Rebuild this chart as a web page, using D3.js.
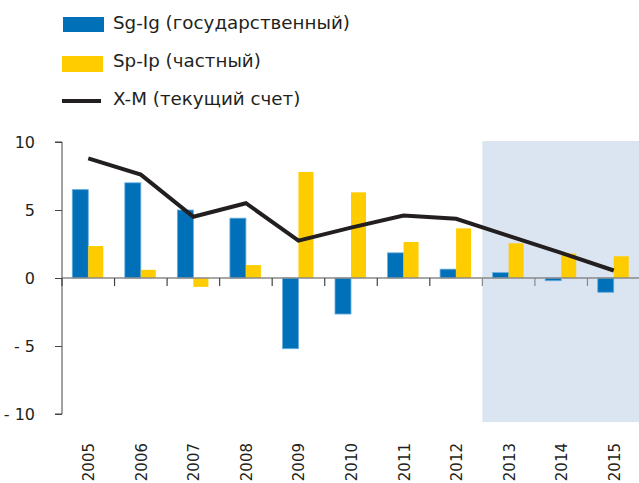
<!DOCTYPE html>
<html>
<head>
<meta charset="utf-8">
<script src="https://cdn.jsdelivr.net/npm/d3@7"></script>
<style>
  body { margin: 0; background: #fff; }
  text { font-family: "DejaVu Sans", sans-serif; fill: #231f20; }
</style>
</head>
<body>
<div id="chart"></div>
<script>
var years = ["2005","2006","2007","2008","2009","2010","2011","2012","2013","2014","2015"];
var gov = [6.5, 7.0, 5.0, 4.4, -5.2, -2.65, 1.85, 0.65, 0.4, -0.2, -1.05];
var priv = [2.35, 0.6, -0.65, 0.95, 7.8, 6.3, 2.65, 3.65, 2.55, 1.8, 1.6];
var cur = [8.8, 7.6, 4.5, 5.5, 2.75, 3.7, 4.6, 4.35, 3.1, 1.85, 0.55];
var yTicks = [-10, -5, 0, 5, 10];
var legendNames = ["Sg-Ig (государственный)", "Sp-Ip (частный)", "X-M (текущий счет)"];
var forecastFrom = "2013";

var width = 639, height = 483;
var svg = d3.select("#chart").append("svg").attr("width", width).attr("height", height);

var x = d3.scaleBand().domain(years).range([62, 640]);
var y = d3.scaleLinear().domain([-10, 10]).range([414, 142]);

// forecast shading
svg.append("rect")
  .attr("x", x(forecastFrom))
  .attr("y", 141)
  .attr("width", 640 - x(forecastFrom))
  .attr("height", 422 - 141)
  .attr("fill", "#dbe5f1");

// y axis
var yAxis = svg.append("g").attr("transform", "translate(62,0)")
  .call(d3.axisLeft(y).tickValues(yTicks).tickSize(7).tickPadding(20)
    .tickFormat(function(d){ return d < 0 ? "- " + Math.abs(d) : d; }));
yAxis.select(".domain").attr("stroke", "#444").attr("d", "M-7," + y(10) + "H0V" + y(-10) + "H-7");
yAxis.selectAll(".tick line").attr("stroke", "#444");
yAxis.selectAll(".tick text").attr("font-size", 16).attr("fill", "#231f20")
  .attr("font-family", "Liberation Sans, Arial, sans-serif");

var bw = 16;
var g = svg.append("g");
g.selectAll(".gov").data(years).enter().append("rect")
  .attr("x", function(d){ return x(d) + x.bandwidth()/2 - bw; })
  .attr("y", function(d,i){ return y(Math.max(0, gov[i])); })
  .attr("width", bw)
  .attr("height", function(d,i){ return Math.abs(y(gov[i]) - y(0)); })
  .attr("fill", "#0070b8")
  .attr("stroke", "#6aaee0").attr("stroke-width", 0.8);

g.selectAll(".priv").data(years).enter().append("rect")
  .attr("x", function(d){ return x(d) + x.bandwidth()/2; })
  .attr("y", function(d,i){ return y(Math.max(0, priv[i])); })
  .attr("width", bw - 1)
  .attr("height", function(d,i){ return Math.abs(y(priv[i]) - y(0)); })
  .attr("fill", "#ffcc00");

// zero axis with ticks at band edges
var xa = svg.append("g");
xa.append("line").attr("x1", 62).attr("x2", 639).attr("y1", y(0)).attr("y2", y(0))
  .attr("stroke", "#8a8a8a").attr("stroke-width", 1.5);
xa.selectAll(".tk").data(years).enter().append("line")
  .attr("x1", function(d){ return x(d); }).attr("x2", function(d){ return x(d); })
  .attr("y1", y(0)).attr("y2", y(0) + 8)
  .attr("stroke", function(d){ return d >= forecastFrom ? "#888" : "#444"; })
  .attr("stroke-width", 1.2);

// year labels
svg.selectAll(".yl").data(years).enter().append("text")
  .attr("transform", function(d){ return "translate(" + (x(d) + x.bandwidth()/2 + 6) + ",443) rotate(-90)"; })
  .attr("text-anchor", "end")
  .attr("font-size", 15)
  .attr("fill", "#333")
  .attr("font-family", "Liberation Sans, Arial, sans-serif")
  .text(function(d){ return d; });

// current account line
var line = d3.line()
  .x(function(d,i){ return x(years[i]) + x.bandwidth()/2; })
  .y(function(d){ return y(d); });
svg.append("path").datum(cur)
  .attr("d", line)
  .attr("fill", "none")
  .attr("stroke", "#231f20")
  .attr("stroke-width", 4);

// legend
var lg = svg.append("g");
var rows = [23, 61, 99];
lg.append("rect").attr("x", 63).attr("y", 17).attr("width", 41).attr("height", 15).attr("fill", "#0070b8");
lg.append("rect").attr("x", 62).attr("y", 56).attr("width", 41).attr("height", 16).attr("fill", "#ffcc00");
lg.append("line").attr("x1", 62).attr("x2", 101).attr("y1", 101).attr("y2", 101)
  .attr("stroke", "#231f20").attr("stroke-width", 4);
lg.selectAll(".lt").data(legendNames).enter().append("text")
  .attr("x", 113)
  .attr("y", function(d,i){ return rows[i]; })
  .attr("dy", "0.35em")
  .attr("font-size", 18.3)
  .text(function(d){ return d; });
</script>
</body>
</html>
